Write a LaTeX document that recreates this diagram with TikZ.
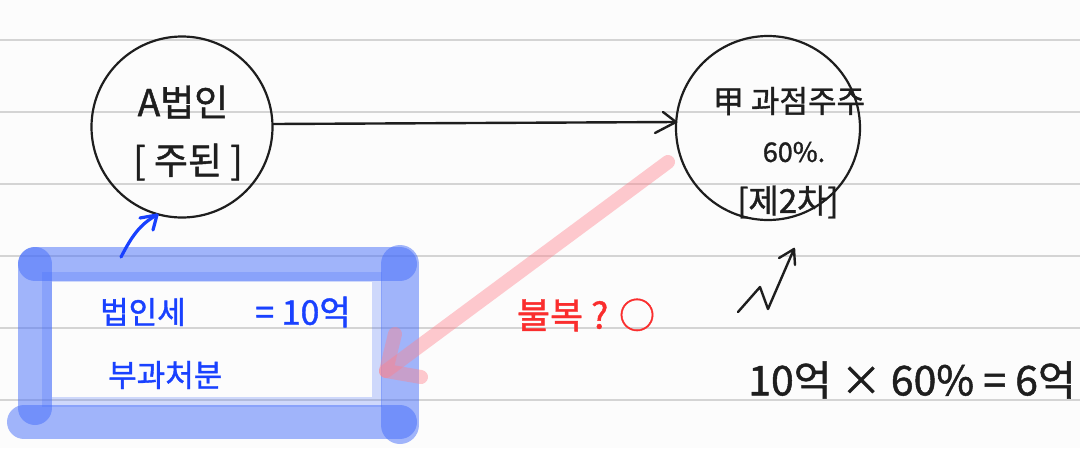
\documentclass[tikz,border=0pt]{standalone}
\usepackage{fontspec}
\setmainfont{Noto Sans CJK KR}[FakeBold=1.2]
\usetikzlibrary{arrows.meta}
\definecolor{rulegray}{RGB}{212,212,212}
\definecolor{penblack}{RGB}{30,30,30}
\definecolor{penblue}{RGB}{25,65,255}
\definecolor{hiblue}{RGB}{70,110,250}
\definecolor{penred}{RGB}{250,45,45}
\definecolor{hipink}{RGB}{255,130,140}
\newcommand{\fs}[1]{\fontsize{#1}{#1}\selectfont}
\tikzset{
  rule/.style={draw=rulegray, line width=2.5},
  bubble/.style={circle, draw=penblack, line width=2.2, inner sep=0pt},
  ink/.style={text=penblack, inner sep=0pt, font=\fs{30}},
  blueink/.style={text=penblue, inner sep=0pt, font=\fs{31}},
  redink/.style={text=penred, inner sep=0pt, font=\fs{36}},
  highlight/.style={draw=hiblue, opacity=0.5, line width=34, line cap=round},
  pinkpen/.style={draw=hipink, opacity=0.42, line width=14, line cap=round, line join=round},
  blackpen/.style={draw=penblack, line width=2.4, line cap=round, line join=round},
  bluepen/.style={draw=penblue, line width=3.2, line cap=round, line join=round},
}
\begin{document}
\begin{tikzpicture}[x=1pt,y=-1pt]
\useasboundingbox (0,0) rectangle (1080,448);
\fill[white!99!black] (0,0) rectangle (1080,448);
\foreach \yy in {40,112,184,256,328,400} \draw[rule] (0,\yy) -- (1080,\yy);

% circles
\node[bubble, minimum size=181] (A) at (182,127) {};
\node[bubble, minimum size=184] (B) at (768,128) {};
\node[ink, font=\fs{37}] (At1) at (183,102) {A법인};
\node[ink, font=\fs{37}] (At2) at (188,162) {[ 주된 ]};
\node[ink, font=\fs{31}] (Bt1) at (789,101) {甲 과점주주};
\node[ink, font=\fs{27}] (Bt2) at (794,152) {60\%.};
\node[ink, font=\fs{33}] (Bt3) at (788,202) {[제2차]};

% main arrow
\coordinate (tipB) at (676,122);
\draw[blackpen] (A.east |- 0,124) -- (tipB);
\draw[blackpen] (663,112) -- (tipB) -- (655,133);

% highlighted box
\coordinate (c1) at (35,264);
\coordinate (c2) at (400,264);
\coordinate (c3) at (400,422);
\coordinate (c4) at (24,422);
\draw[highlight] (c1) -- (c2);
\draw[highlight] (35,264) -- (35,408);
\draw[highlight] (c4) -- (400,422);
\draw[highlight, line width=38] (400,264) -- (400,425);
\draw[draw=hiblue, opacity=0.25, line width=10] (47,277) rectangle (377,402);
\node[blueink, anchor=west] (tax) at (100,312) {법인세};
\node[blueink, anchor=west, font=\fs{34}] (ten) at (255,312) {= 10억};
\node[blueink, anchor=west] (impose) at (108,375) {부과처분};

% blue arrow to A
\coordinate (bs) at (121,257);
\coordinate (bt) at (157,215);
\draw[bluepen] (bs) .. controls (132,236) and (140,224) .. (bt);
\draw[bluepen] (140,218) -- (bt) -- (153,230);

% red appeal arrow
\coordinate (rs) at (668,162);
\coordinate (rt) at (386,371);
\draw[pinkpen] (rs) -- (rt);
\draw[pinkpen] (395,334) -- (rt) -- (421,377);
\node[redink] (appeal) at (586,315) {불복 ? ○};

% squiggle arrow
\coordinate (st) at (794,249);
\draw[blackpen] (738,312) -- (760,287) -- (768,309) -- (st);
\draw[blackpen] (779,258) -- (st) -- (795,265);

\node[ink, font=\fs{41}] (calc) at (912,380) {10억 × 60\% = 6억};
\end{tikzpicture}
\end{document}
